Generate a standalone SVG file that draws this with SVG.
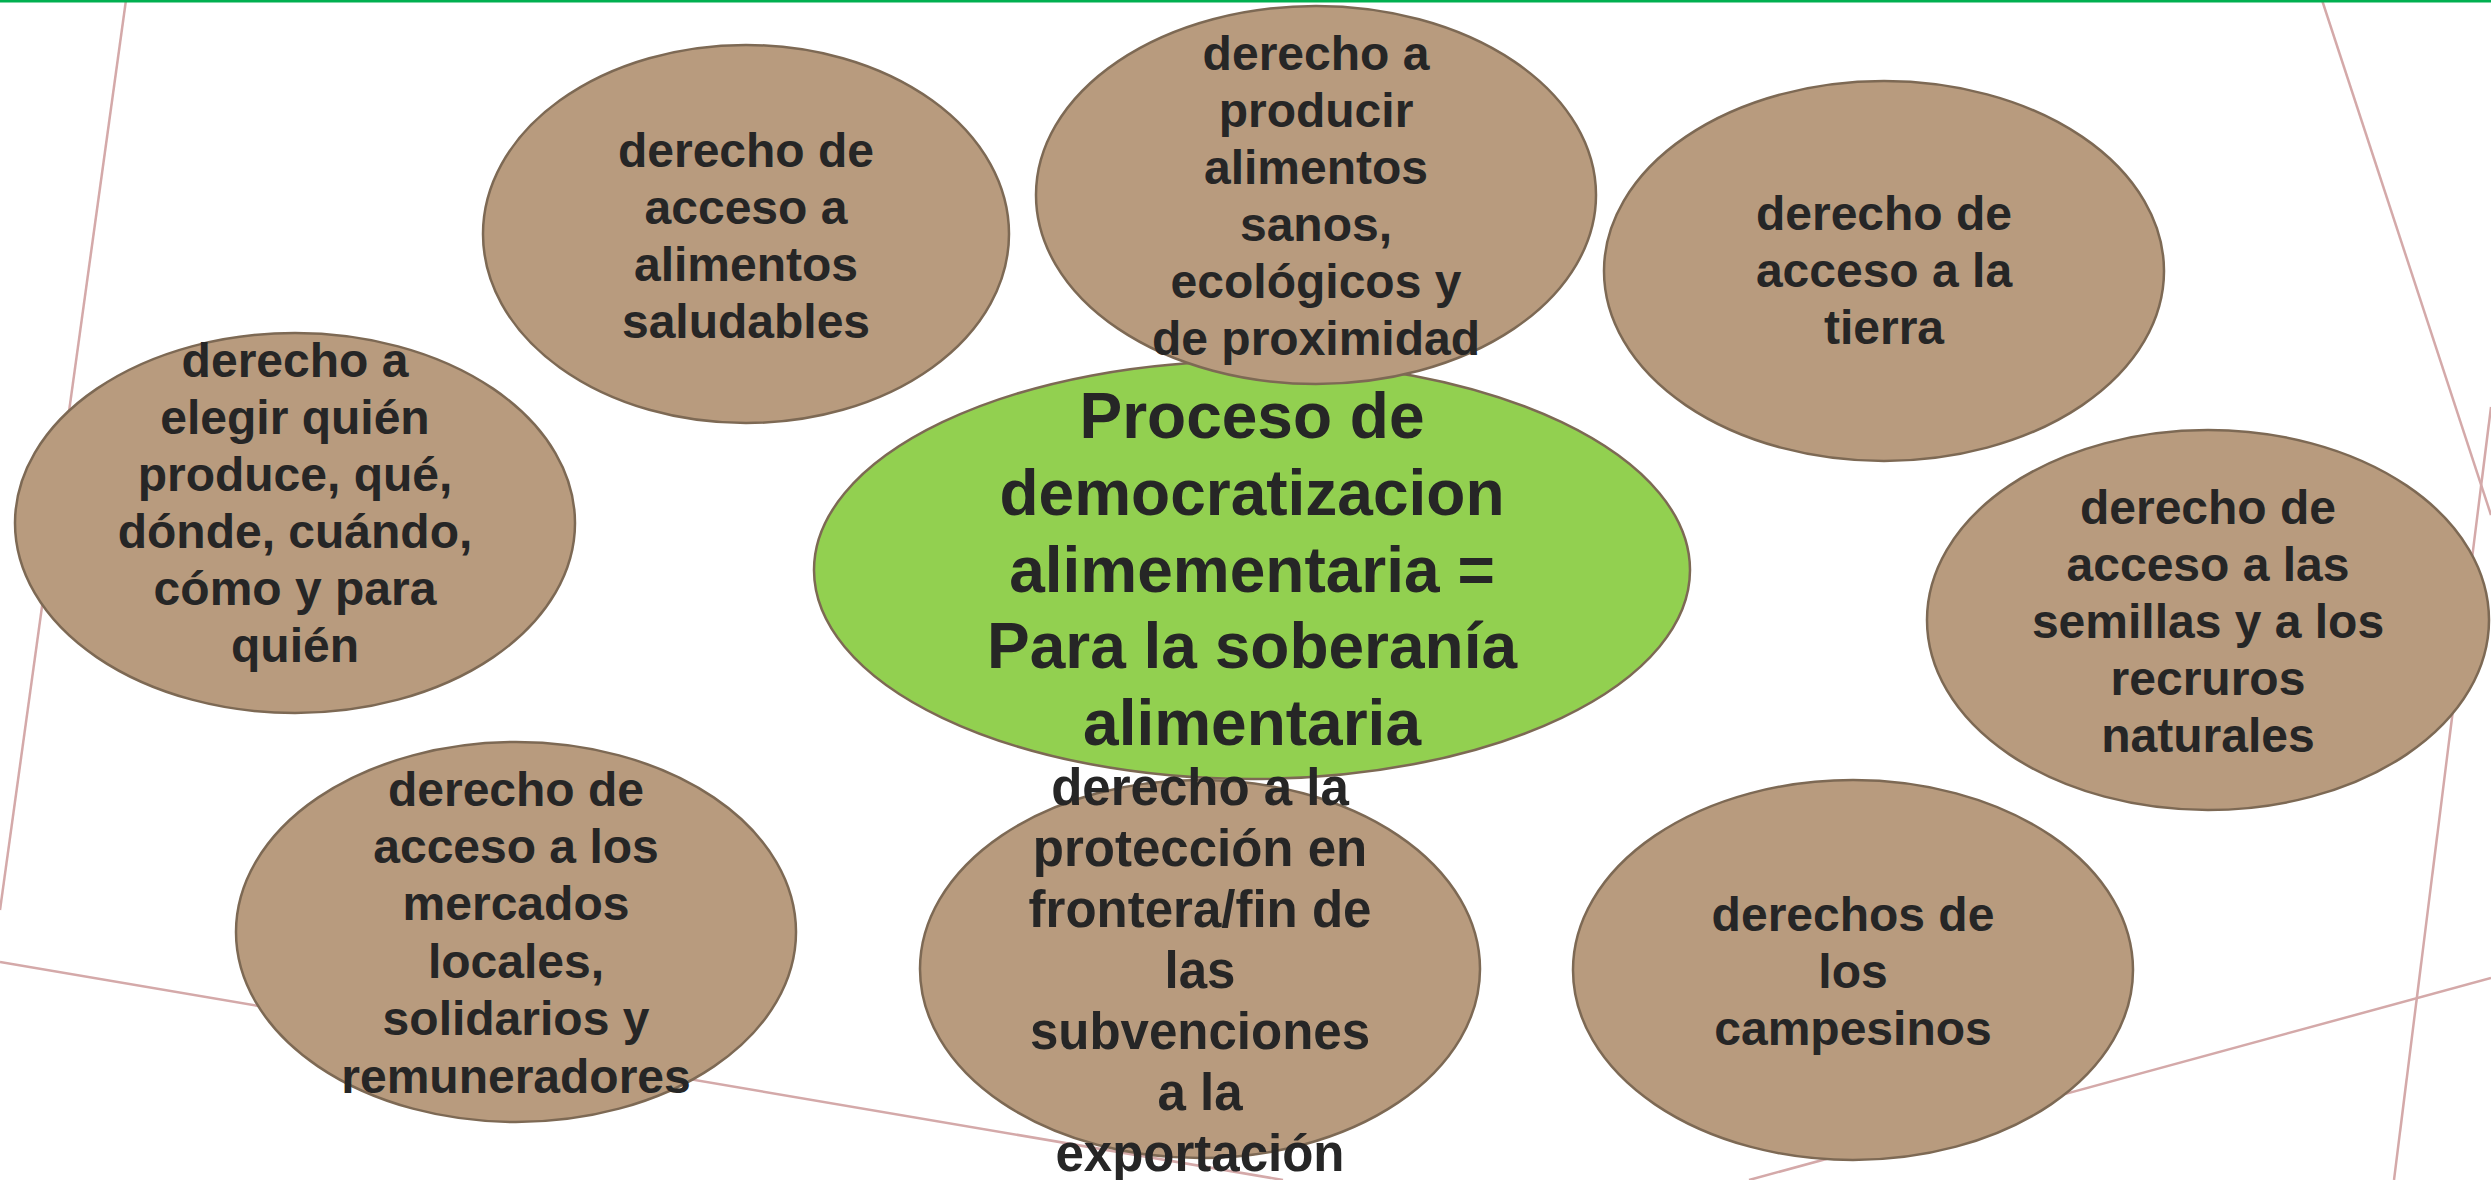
<svg xmlns="http://www.w3.org/2000/svg" width="2491" height="1180" viewBox="0 0 2491 1180">
<style>
.bg{stroke:#d4a9a9;stroke-width:2.5;fill:none}
.n{fill:#b89b7e;stroke:#7d6954;stroke-width:2.5}
.c{fill:#92d050;stroke:#7d6954;stroke-width:2.5}
text{font-family:"Liberation Sans",Arial,sans-serif;font-weight:bold;fill:#262626;text-anchor:middle}
.t{font-size:48px}
.tg{font-size:51px}
.tc{font-size:64px}
</style>
<rect x="0" y="0" width="2491" height="1180" fill="#ffffff"/>
<g id="background">
<line class="bg" x1="126" y1="0" x2="0" y2="910"/>
<line class="bg" x1="0" y1="962" x2="1283" y2="1180"/>
<line class="bg" x1="2322" y1="0" x2="2491" y2="515"/>
<line class="bg" x1="2491" y1="407" x2="2394" y2="1180"/>
<line class="bg" x1="2491" y1="978" x2="1749" y2="1180"/>
<line x1="0" y1="1" x2="2491" y2="1" stroke="#00b050" stroke-width="3"/>
</g>
<g id="connectors"></g>
<g id="center">
<ellipse class="c" cx="1252" cy="570" rx="438" ry="209"/>
<text class="tc"><tspan x="1252" y="438">Proceso de</tspan><tspan x="1252" y="515">democratizacion</tspan><tspan x="1252" y="592">alimementaria =</tspan><tspan x="1252" y="668">Para la soberanía</tspan><tspan x="1252" y="745">alimentaria</tspan></text>
</g>
<g id="node-saludables">
<ellipse class="n" cx="746" cy="234" rx="263" ry="189"/>
<text class="t"><tspan x="746" y="167">derecho de</tspan><tspan x="746" y="224">acceso a</tspan><tspan x="746" y="281">alimentos</tspan><tspan x="746" y="338">saludables</tspan></text>
</g>
<g id="node-producir">
<ellipse class="n" cx="1316" cy="195" rx="280" ry="189"/>
<text class="t"><tspan x="1316" y="70">derecho a</tspan><tspan x="1316" y="127">producir</tspan><tspan x="1316" y="184">alimentos</tspan><tspan x="1316" y="241">sanos,</tspan><tspan x="1316" y="298">ecológicos y</tspan><tspan x="1316" y="355">de proximidad</tspan></text>
</g>
<g id="node-tierra">
<ellipse class="n" cx="1884" cy="271" rx="280" ry="190"/>
<text class="t"><tspan x="1884" y="230">derecho de</tspan><tspan x="1884" y="287">acceso a la</tspan><tspan x="1884" y="344">tierra</tspan></text>
</g>
<g id="node-elegir">
<ellipse class="n" cx="295" cy="523" rx="280" ry="190"/>
<text class="t"><tspan x="295" y="377">derecho a</tspan><tspan x="295" y="434">elegir quién</tspan><tspan x="295" y="491">produce, qué,</tspan><tspan x="295" y="548">dónde, cuándo,</tspan><tspan x="295" y="605">cómo y para</tspan><tspan x="295" y="662">quién</tspan></text>
</g>
<g id="node-semillas">
<ellipse class="n" cx="2208" cy="620" rx="281" ry="190"/>
<text class="t"><tspan x="2208" y="524">derecho de</tspan><tspan x="2208" y="581">acceso a las</tspan><tspan x="2208" y="638">semillas y a los</tspan><tspan x="2208" y="695">recruros</tspan><tspan x="2208" y="752">naturales</tspan></text>
</g>
<g id="node-mercados">
<ellipse class="n" cx="516" cy="932" rx="280" ry="190"/>
<text class="t"><tspan x="516" y="806">derecho de</tspan><tspan x="516" y="863">acceso a los</tspan><tspan x="516" y="920">mercados</tspan><tspan x="516" y="978">locales,</tspan><tspan x="516" y="1035">solidarios y</tspan><tspan x="516" y="1093">remuneradores</tspan></text>
</g>
<g id="node-proteccion">
<ellipse class="n" cx="1200" cy="969" rx="280" ry="189"/>
<text class="tg"><tspan x="1200" y="805">derecho a la</tspan><tspan x="1200" y="866">protección en</tspan><tspan x="1200" y="927">frontera/fin de</tspan><tspan x="1200" y="988">las</tspan><tspan x="1200" y="1049">subvenciones</tspan><tspan x="1200" y="1110">a la</tspan><tspan x="1200" y="1171">exportación</tspan></text>
</g>
<g id="node-campesinos">
<ellipse class="n" cx="1853" cy="970" rx="280" ry="190"/>
<text class="t"><tspan x="1853" y="931">derechos de</tspan><tspan x="1853" y="988">los</tspan><tspan x="1853" y="1045">campesinos</tspan></text>
</g>
</svg>
